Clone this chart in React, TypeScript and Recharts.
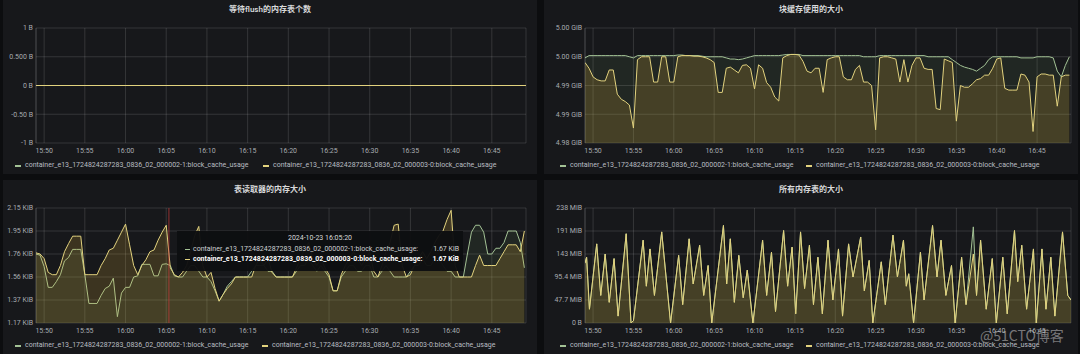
import { AreaChart, Area, XAxis, YAxis, CartesianGrid, ReferenceLine } from 'recharts';
import type { ReactNode } from 'react';

const FONT = "Roboto, 'Noto Sans CJK SC', sans-serif";
const GREEN = '#7eb26d';
const YELLOW = '#eab839';
const GREEN_LINE = '#a3c295';
const YELLOW_LINE = '#e2d27e';
const GRID = 'rgba(255,255,255,0.13)';

const SERIES_NAMES = [
  'container_e13_1724824287283_0836_02_000002-1:block_cache_usage',
  'container_e13_1724824287283_0836_02_000003-0:block_cache_usage',
];

// x axis: minutes after 15:50
const TIME_DOMAIN = [-1, 59.2];
const TIME_TICKS = [0, 5, 10, 15, 20, 25, 30, 35, 40, 45, 50, 55];
const TIME_LABELS = ['15:50', '15:55', '16:00', '16:05', '16:10', '16:15', '16:20', '16:25', '16:30', '16:35', '16:40', '16:45'];

// sampling grid for the 30s panels: first sample and step, in minutes
const GRID_START = -1;
const GRID_STEP = 0.5;

// 等待flush的内存表个数
const flushTimes = [-1, 59.2];
const flushA = [0, 0];
const flushB = [0, 0];
const flushTicks = [-1, -0.5, 0, 0.5, 1];
const flushLabels = ['-1 B', '-0.50 B', '0 B', '0.500 B', '1 B'];

// 块缓存使用的大小 (GiB)
const cacheA = [
  4.9948, 4.9952, 4.9952, 4.9952, 4.9952, 4.9952, 4.9952, 4.9952, 4.9952, 4.9952,
  4.9952, 4.9950, 4.9948, 4.9952, 4.9952, 4.9952, 4.9952, 4.9952, 4.9952, 4.9952,
  4.9952, 4.9952, 4.9952, 4.9953, 4.9953, 4.9952, 4.9952, 4.9952, 4.9952, 4.9951,
  4.9950, 4.9950, 4.9950, 4.9950, 4.9950, 4.9948, 4.9946, 4.9946, 4.9945, 4.9946,
  4.9948, 4.9950, 4.9952, 4.9952, 4.9952, 4.9952, 4.9952, 4.9952, 4.9952, 4.9953,
  4.9954, 4.9954, 4.9954, 4.9954, 4.9952, 4.9952, 4.9952, 4.9952, 4.9952, 4.9952,
  4.9952, 4.9952, 4.9952, 4.9952, 4.9952, 4.9952, 4.9952, 4.9952, 4.9952, 4.9950,
  4.9950, 4.9950, 4.9950, 4.9952, 4.9952, 4.9952, 4.9952, 4.9952, 4.9952, 4.9952,
  4.9952, 4.9952, 4.9952, 4.9952, 4.9952, 4.9950, 4.9950, 4.9950, 4.9950, 4.9950,
  4.9950, 4.9945, 4.9940, 4.9935, 4.9932, 4.9930, 4.9928, 4.9925, 4.9930, 4.9935,
  4.9945, 4.9950, 4.9950, 4.9950, 4.9950, 4.9950, 4.9950, 4.9950, 4.9948, 4.9948,
  4.9948, 4.9948, 4.9950, 4.9950, 4.9950, 4.9950, 4.9948, 4.9925, 4.9915, 4.9935,
  4.9950,
];
const cacheB = [
  4.9940, 4.9930, 4.9915, 4.9910, 4.9908, 4.9908, 4.9927, 4.9927, 4.9885, 4.9876,
  4.9872, 4.9866, 4.9826, 4.9945, 4.9950, 4.9950, 4.9950, 4.9906, 4.9906, 4.9950,
  4.9950, 4.9906, 4.9906, 4.9950, 4.9952, 4.9952, 4.9952, 4.9951, 4.9951, 4.9950,
  4.9948, 4.9945, 4.9940, 4.9888, 4.9888, 4.9930, 4.9932, 4.9927, 4.9922, 4.9935,
  4.9936, 4.9930, 4.9894, 4.9936, 4.9930, 4.9905, 4.9897, 4.9880, 4.9873, 4.9948,
  4.9952, 4.9954, 4.9954, 4.9953, 4.9942, 4.9925, 4.9922, 4.9930, 4.9930, 4.9888,
  4.9945, 4.9948, 4.9950, 4.9950, 4.9915, 4.9910, 4.9910, 4.9928, 4.9935, 4.9906,
  4.9906, 4.9900, 4.9823, 4.9948, 4.9950, 4.9950, 4.9948, 4.9946, 4.9906, 4.9945,
  4.9906, 4.9935, 4.9948, 4.9948, 4.9930, 4.9928, 4.9928, 4.9860, 4.9858, 4.9946,
  4.9943, 4.9940, 4.9838, 4.9900, 4.9897, 4.9897, 4.9903, 4.9910, 4.9912, 4.9918,
  4.9918, 4.9930, 4.9946, 4.9948, 4.9895, 4.9892, 4.9892, 4.9892, 4.9920, 4.9918,
  4.9906, 4.9820, 4.9915, 4.9920, 4.9920, 4.9918, 4.9918, 4.9864, 4.9915, 4.9918,
  4.9918,
];
const cacheTicks = [4.98, 4.985, 4.99, 4.995, 5.0];
const cacheLabels = ['4.98 GiB', '4.99 GiB', '4.99 GiB', '5.00 GiB', '5.00 GiB'];

// 表读取器的内存大小 (bytes)
const readerA = [
  1800, 1790, 1690, 1510, 1510, 1560, 1620, 1740, 1770, 1840,
  1840, 1840, 1620, 1370, 1370, 1370, 1440, 1500, 1520, 1590,
  1255, 1460, 1510, 1510, 1600, 1610, 1710, 1710, 1710, 1610,
  1610, 1710, 1715, 1700, 1610, 1600, 1600, 1650, 1700, 1700,
  1650, 1600, 1600, 1560, 1480, 1390, 1450, 1520, 1560, 1600,
  1600, 1600, 1600, 1650, 1700, 1700, 1700, 1650, 1650, 1600,
  1600, 1600, 1600, 1600, 1650, 1700, 1700, 1760, 1700, 1650,
  1700, 1650, 1600, 1480, 1480, 1600, 1650, 1700, 1700, 1650,
  1650, 1700, 1700, 1600, 1600, 1650, 1700, 1650, 1600, 1600,
  1600, 1600, 1650, 1700, 1700, 1760, 1700, 1700, 1760, 1760,
  1700, 1650, 1650, 1600, 1600, 1600, 1800, 1990, 2050, 2050,
  1990, 1800, 1800, 1850, 1850, 1900, 2000, 2000, 2000, 1900,
  1680,
];
const readerB = [
  1810, 1800, 1760, 1640, 1620, 1620, 1700, 1820, 1890, 1955,
  1955, 1955, 1620, 1620, 1620, 1620, 1700, 1760, 1835, 1850,
  1920, 1990, 2060, 1880, 1700, 1620, 1700, 1750, 1820, 1835,
  1920, 1990, 2050, 1680, 1620, 1600, 1640, 1700, 1820, 1960,
  2040, 1700, 1600, 1640, 1500, 1390, 1450, 1500, 1540, 1600,
  1600, 1600, 1600, 1600, 1700, 1760, 1700, 1760, 1640, 1600,
  1600, 1600, 1600, 1600, 1680, 1760, 1840, 1900, 1760, 1700,
  1760, 1680, 1620, 1480, 1480, 1620, 1700, 1760, 1820, 1760,
  1700, 1760, 1820, 1650, 1600, 1700, 1820, 1900, 2050, 2060,
  1700, 1600, 1620, 1700, 1760, 1820, 1760, 1820, 1900, 1960,
  2000, 2100, 2180, 1700, 1600, 1600, 1600, 1600, 1700, 1790,
  1700, 1700, 1700, 1700, 1760, 1820, 1880, 1880, 1880, 1820,
  2000,
];
const readerTicks = [1200, 1400, 1600, 1800, 2000, 2200];
const readerLabels = ['1.17 KiB', '1.37 KiB', '1.56 KiB', '1.76 KiB', '1.95 KiB', '2.15 KiB'];

// 所有内存表的大小 (millions of bytes)
const memTimes = [
  -1.0, -0.8, -0.45, 0.45, 0.95, 1.5, 2.0, 2.6, 3.1, 4.1, 4.7, 5.0, 6.2, 6.6, 7.05, 7.6,
  8.5, 9.6, 10.6, 11.1, 11.9, 12.4, 13.2, 13.7, 14.25, 14.7, 16.15, 16.55, 17.0, 17.5,
  18.05, 18.6, 19.1, 19.8, 21.0, 21.5, 22.1, 22.6, 23.6, 24.1, 24.65, 25.1, 25.7, 26.2,
  26.8, 27.3, 27.85, 28.4, 29.1, 29.7, 30.4, 30.9, 31.65, 32.2, 33.15, 33.6, 34.2, 34.65,
  35.7, 36.2, 37.15, 37.7, 38.45, 38.8, 39.1, 39.7, 40.55, 41.0, 42.05, 42.6, 43.1, 43.7,
  44.4, 44.85, 45.65, 46.2, 47.1, 47.5, 48.0, 48.7, 49.45, 49.95, 50.75, 51.3, 52.2, 52.6,
  53.1, 53.7, 54.55, 54.9, 55.6, 56.1, 56.7, 57.2, 58.15, 58.8, 59.2,
];
const memA = [
  130, 143, 30, 172, 60, 150, 45, 140, 15, 194, 0, 5, 180, 80, 161, 60,
  198, 0, 147, 40, 183, 85, 169, 60, 125, 0, 212, 85, 183, 45,
  147, 55, 115, 0, 180, 60, 154, 25, 201, 80, 165, 20, 198, 75,
  169, 40, 143, 20, 180, 50, 161, 15, 172, 100, 187, 70, 136, 0,
  133, 40, 191, 100, 180, 80, 107, 0, 154, 50, 212, 100, 180, 60,
  125, 0, 143, 40, 209, 60, 180, 30, 140, 0, 143, 20, 201, 90,
  169, 30, 161, 0, 161, 30, 143, 15, 198, 60, 50,
];
const memB = [
  130, 143, 30, 172, 60, 150, 45, 140, 15, 194, 0, 5, 180, 80, 161, 60,
  198, 0, 147, 40, 183, 85, 169, 60, 125, 0, 212, 85, 183, 45,
  147, 55, 115, 0, 180, 60, 154, 25, 201, 80, 165, 20, 198, 75,
  169, 40, 143, 20, 180, 50, 161, 15, 172, 100, 187, 70, 136, 0,
  133, 40, 191, 100, 180, 80, 107, 0, 154, 50, 212, 100, 180, 60,
  125, 0, 143, 40, 150, 60, 180, 30, 140, 0, 143, 20, 201, 90,
  169, 30, 161, 0, 161, 30, 143, 15, 198, 60, 50,
];
const memTicks = [0, 50, 100, 150, 200, 250];
const memLabels = ['0 B', '47.7 MiB', '95.4 MiB', '143 MiB', '191 MiB', '238 MiB'];

type Point = { t: number; a: number; b: number };

const onGrid = (a: number[], b: number[]): Point[] =>
  a.map((v, i) => ({ t: GRID_START + i * GRID_STEP, a: v, b: b[i] }));

const withTimes = (times: number[], a: number[], b: number[]): Point[] =>
  times.map((t, i) => ({ t, a: a[i], b: b[i] }));

const TICK_FILL = '#a7abb0';

// plain svg text, so recharts does not wrap "5.00 GiB" onto two lines
const makeTick = (ticks: number[], labels: string[], anchor: 'end' | 'middle', dy: string) =>
  (props: any) => {
    const { x, y, payload } = props;
    return (
      <text x={x} y={y} dy={dy} textAnchor={anchor} fill={TICK_FILL} fontSize={7} fontFamily={FONT}>
        {labels[ticks.indexOf(payload.value)] ?? ''}
      </text>
    );
  };

const timeTick = makeTick(TIME_TICKS, TIME_LABELS, 'middle', '0.71em');

interface PanelProps {
  title: string;
  left: number;
  top: number;
  data: Point[];
  yTicks: number[];
  yLabels: string[];
  plotLeft: number;
  plotRight: number;
  legendX: [number, number];
  children?: ReactNode;
  overlay?: ReactNode;
}

const PANEL_W = 534;
const PANEL_H = 174;

function Panel({ title, left, top, data, yTicks, yLabels, plotLeft, plotRight, legendX, children, overlay }: PanelProps) {
  return (
    <div style={{ position: 'absolute', left, top, width: PANEL_W, height: PANEL_H, background: '#17181b' }}>
      <div
        style={{
          position: 'absolute', top: 4, left: 0, width: PANEL_W, textAlign: 'center',
          color: '#d8d9da', fontSize: 8, fontWeight: 600, fontFamily: FONT, lineHeight: '12px',
        }}
      >
        {title}
      </div>
      <div style={{ position: 'absolute', left: 0, top: 0 }}>
        <AreaChart width={PANEL_W} height={160} data={data} margin={{ top: 28, right: PANEL_W - plotRight, bottom: 0, left: 0 }}>
          <CartesianGrid stroke={GRID} />
          <XAxis
            dataKey="t"
            type="number"
            domain={TIME_DOMAIN}
            allowDataOverflow
            ticks={TIME_TICKS}
            interval={0}
            tick={timeTick}
            tickSize={0}
            tickMargin={5}
            axisLine={false}
            height={17}
          />
          <YAxis
            type="number"
            domain={[yTicks[0], yTicks[yTicks.length - 1]]}
            allowDataOverflow
            ticks={yTicks}
            interval={0}
            tick={makeTick(yTicks, yLabels, 'end', '0.355em')}
            tickSize={0}
            tickMargin={3}
            axisLine={{ stroke: GRID }}
            width={plotLeft}
          />
          <Area
            type="linear"
            dataKey="a"
            stroke={GREEN_LINE}
            strokeWidth={1}
            fill={GREEN}
            fillOpacity={0.1}
            dot={false}
            activeDot={false}
            isAnimationActive={false}
          />
          <Area
            type="linear"
            dataKey="b"
            stroke={YELLOW_LINE}
            strokeWidth={1}
            fill={YELLOW}
            fillOpacity={0.18}
            dot={false}
            activeDot={false}
            isAnimationActive={false}
          />
          {children}
        </AreaChart>
      </div>
      {SERIES_NAMES.map((name, i) => (
        <div
          key={name}
          style={{
            position: 'absolute', left: legendX[i], top: 161, display: 'flex', alignItems: 'center',
            fontSize: 7, fontFamily: FONT, color: '#b9bdc2', whiteSpace: 'nowrap', lineHeight: '9px',
          }}
        >
          <span style={{ display: 'inline-block', width: 6, height: 2, background: i === 0 ? GREEN_LINE : YELLOW_LINE, marginRight: 4 }} />
          {name}
        </div>
      ))}
      {overlay}
    </div>
  );
}

function HoverTooltip() {
  const row = (i: number) => (
    <div
      style={{
        display: 'flex', alignItems: 'center', height: 10, paddingLeft: 8, paddingRight: 4,
        color: i === 1 ? '#ffffff' : '#cfd1d4', fontWeight: i === 1 ? 700 : 400,
      }}
    >
      <span style={{ display: 'inline-block', width: 5, height: 1, background: i === 0 ? GREEN_LINE : YELLOW_LINE, marginRight: 3 }} />
      <span style={{ flex: 1 }}>{SERIES_NAMES[i]}:</span>
      <span>1.67 KiB</span>
    </div>
  );
  return (
    <div
      style={{
        position: 'absolute', left: 174, top: 51, width: 286, height: 40, background: 'rgba(14,15,17,0.96)',
        fontSize: 7, fontFamily: FONT, whiteSpace: 'nowrap', boxSizing: 'border-box', paddingTop: 2,
      }}
    >
      <div style={{ textAlign: 'center', color: '#d8d9da', height: 11, lineHeight: '11px' }}>2024-10-23 16:05:20</div>
      {row(0)}
      {row(1)}
    </div>
  );
}

export default function App() {
  return (
    <div style={{ position: 'fixed', left: 0, top: 0, width: 1080, height: 354, background: '#0c0d0f', overflow: 'hidden' }}>
      <Panel
        title="等待flush的内存表个数"
        left={3}
        top={0}
        data={withTimes(flushTimes, flushA, flushB)}
        yTicks={flushTicks}
        yLabels={flushLabels}
        plotLeft={33}
        plotRight={523}
        legendX={[12, 260]}
      />
      <Panel
        title="块缓存使用的大小"
        left={544}
        top={0}
        data={onGrid(cacheA, cacheB)}
        yTicks={cacheTicks}
        yLabels={cacheLabels}
        plotLeft={41}
        plotRight={527}
        legendX={[16, 262]}
      />
      <Panel
        title="表读取器的内存大小"
        left={3}
        top={180}
        data={onGrid(readerA, readerB)}
        yTicks={readerTicks}
        yLabels={readerLabels}
        plotLeft={33}
        plotRight={523}
        legendX={[12, 259]}
        overlay={<HoverTooltip />}
      >
        <ReferenceLine x={15.33} stroke="rgba(200,60,60,0.7)" strokeWidth={1} />
      </Panel>
      <Panel
        title="所有内存表的大小"
        left={544}
        top={180}
        data={withTimes(memTimes, memA, memB)}
        yTicks={memTicks}
        yLabels={memLabels}
        plotLeft={41}
        plotRight={527}
        legendX={[16, 262]}
      />
      <div
        style={{
          position: 'absolute', left: 980, top: 327, fontSize: 14, fontFamily: "'Noto Sans CJK SC', sans-serif",
          color: 'rgba(215,215,215,0.5)', whiteSpace: 'nowrap', lineHeight: '17px',
        }}
      >
        @51CTO博客
      </div>
    </div>
  );
}
